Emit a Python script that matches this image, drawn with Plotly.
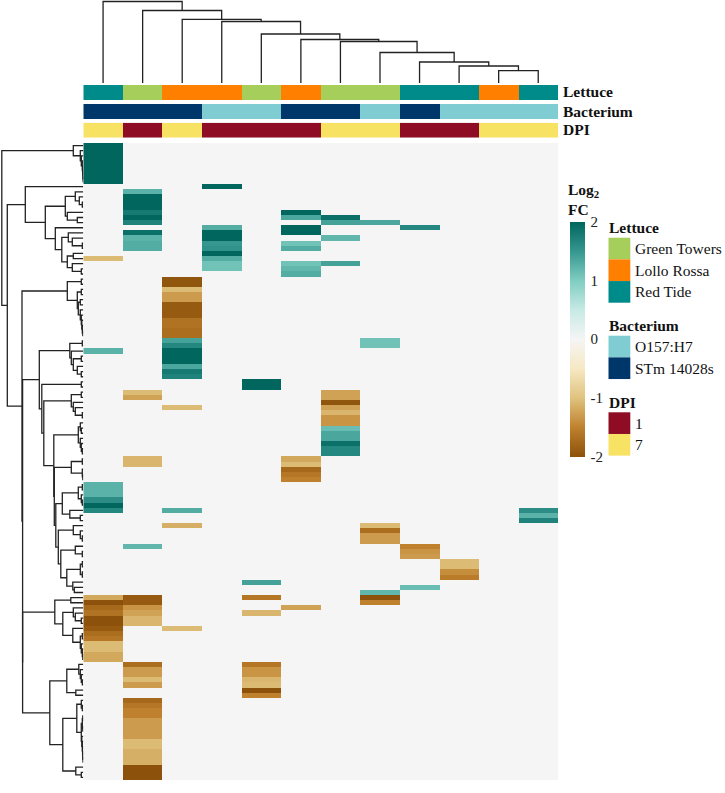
import plotly.graph_objects as go

W, H = 725, 793

# --- heatmap values: column -> {row: log2 FC}; everything else is 0 ---
n_rows, n_cols = 124, 12
col_0 = {0: 2, 1: 2, 2: 2, 3: 2, 4: 2, 5: 2, 6: 2, 7: 2, 22: -1.05, 40: 1.25, 66: 1.25, 67: 1.25, 68: 1.25,
         69: 1.6, 70: 2, 71: 1.65, 88: -1.2, 89: -2, 90: -1.75, 91: -1.65, 92: -2, 93: -2, 94: -1.9, 95: -1.7,
         96: -1.6, 97: -1.05, 98: -1.05, 99: -1.2, 100: -1.2}
col_1 = {9: 1.25, 10: 2, 11: 2, 12: 2, 13: 1.8, 14: 2, 15: 1.7, 17: 1.9, 18: 1.25, 19: 1.3, 20: 1.3, 48: -1.05,
         49: -1.25, 61: -1.1, 62: -1.1, 78: 1.2, 88: -1.9, 89: -1.9, 90: -1.35, 91: -1.25, 92: -1.1, 93: -1.1,
         101: -1.7, 102: -1.3, 103: -1.3, 104: -1.05, 105: -1.3, 108: -1.75, 109: -1.6, 110: -1.5, 111: -1.5,
         112: -1.3, 113: -1.3, 114: -1.3, 115: -1.3, 116: -1.05, 117: -1.05, 118: -1.15, 119: -1.15, 120: -1.15,
         121: -2, 122: -2, 123: -2}
col_2 = {26: -1.95, 27: -1.95, 28: -1.05, 29: -1.3, 30: -1.3, 31: -1.9, 32: -1.9, 33: -1.9, 34: -1.65, 35: -1.65,
         36: -1.7, 37: -1.7, 38: 1.4, 39: 1.65, 40: 2, 41: 2, 42: 2, 43: 1.35, 44: 1.8, 45: 1.7, 51: -1.05,
         71: 1.3, 74: -1.15, 94: -1.05}
col_3 = {8: 2, 16: 1.3, 17: 2, 18: 2, 19: 1.5, 20: 1.55, 21: 2, 22: 1.3, 23: 1.1, 24: 1.1}
col_4 = {46: 2, 47: 2, 85: 1.4, 88: -1.6, 91: -1.1, 101: -1.6, 102: -1.35, 103: -1.35, 104: -1.1, 105: -1.05,
         106: -2, 107: -1.5}
col_5 = {13: 2, 14: 1.35, 16: 2, 17: 2, 19: 1.1, 20: 1.3, 23: 1.1, 24: 1.2, 25: 1.3, 61: -1.2, 62: -1.05,
         63: -1.75, 64: -1.6, 65: -1.5, 90: -1.25}
col_6 = {14: 1.9, 15: 1.4, 18: 1.2, 23: 1.4, 48: -1.25, 49: -1.25, 50: -1.95, 51: -1.25, 52: -1.1, 53: -1.35,
         54: -1.35, 55: 1.15, 56: 1.35, 57: 1.35, 58: 1.9, 59: 1.65, 60: 1.65}
col_7 = {15: 1.35, 38: 1.1, 39: 1.1, 74: -1.05, 75: -1.7, 76: -1.3, 77: -1.3, 87: 1.2, 88: -2, 89: -1.5}
col_8 = {16: 1.65, 78: -1.5, 79: -1.35, 80: -1.3, 86: 1.15}
col_9 = {81: -1.05, 82: -1.05, 83: -1.4, 84: -1.55}
col_10 = {}
col_11 = {71: 1.6, 72: 1.25, 73: 1.7}
columns = [col_0, col_1, col_2, col_3, col_4, col_5, col_6, col_7, col_8, col_9, col_10, col_11]

# --- column annotations ---
lettuce = ["Red Tide", "Green Towers", "Lollo Rossa", "Lollo Rossa", "Green Towers", "Lollo Rossa",
           "Green Towers", "Green Towers", "Red Tide", "Red Tide", "Lollo Rossa", "Red Tide"]
bacterium = ["STm 14028s", "STm 14028s", "STm 14028s", "O157:H7", "O157:H7", "STm 14028s",
             "STm 14028s", "O157:H7", "STm 14028s", "O157:H7", "O157:H7", "O157:H7"]
dpi = ["7", "1", "7", "1", "1", "1", "7", "7", "1", "1", "7", "7"]

lettuce_levels = ["Green Towers", "Lollo Rossa", "Red Tide"]
bacterium_levels = ["O157:H7", "STm 14028s"]
dpi_levels = ["1", "7"]
lettuce_colors = ["#A6CE5A", "#FF7F00", "#008B8B"]
bacterium_colors = ["#7FCDD3", "#00376B"]
dpi_colors = ["#8E0C24", "#F7E264"]

# --- dendrograms: [height, left, right]; leaves are column/row numbers ---
col_tree = [81.5, 0, [72.5, 1, [63.7, 2, [61.5, 3, [49, 4, [43.5, 5, [41.5, 6, [30.5, 7, [21, 8, [17, 9,
            [12.3, 10, 11]]]]]]]]]]]

block_a = [10, 0, [3, 1, [2, 2, [1, 3, [.6, 4, [.4, 5, [.2, 6, 7]]]]]]]
block_f = [18, [8, 9, [4, 10, [1, 11, 12]]], [16, 13, [6, 14, 15]]]
block_g = [28, 16, [21.5, [15, 17, [11, 18, [1, 19, 20]]], [16, [10, 21, 22], [11, 23, [2, 24, 25]]]]]
block_c = [58, 8, [38, block_f, block_g]]
block_d1 = [16, [2, 26, 27], [6, [2, 28, 29], [5, [3, 30, 31],
            [3, 32, [2, 33, [1.5, 34, [1, 35, [.5, 36, 37]]]]]]]]
block_k = [13.5, [1, 38, 39], [12, 40, [10, [2, 41, 42], [6, 43, [2, 44, 45]]]]]
block_r = [12, [2, 48, 49], [10, 50, [8, 51, [1, 52, 53]]]]
block_v1 = [5, [3, 54, [2, 55, 56]], [3, 57, [2, 58, [1, 59, 60]]]]
block_w = [12, [1, 61, 62], [1, 63, [.5, 64, 65]]]
block_y = [5, [1, 66, 67], [2, 68, [1, 69, 70]]]
block_x = [21, block_y, [13.5, 71, [3, 72, 73]]]
block_z = [10, 74, [3, 75, [1, 76, 77]]]
block_ab = [8, 78, [1, 79, 80]]
block_ad = [3, [1, 81, 82], [1, 83, 84]]
block_ae = [10.5, 85, [9, 86, 87]]
block_aa = [22.5, block_ab, [16.5, block_ad, block_ae]]
block_v4 = [25, block_z, block_aa]
block_v3 = [27.5, block_x, block_v4]
block_v = [29.5, block_v1, [29, block_w, block_v3]]
block_q = [39.5, block_r, block_v]
block_p = [41.5, [2, 46, 47], block_q]
block_d21 = [44, block_k, block_p]
block_ai = [10, 90, [8, 91, [2, 92, 93]]]
block_ak = [3, [1, 95, 96], [2, 97, [1, 98, [.5, 99, 100]]]]
block_aj = [10.5, 94, block_ak]
block_af = [28.5, [12.5, 88, 89], [20.5, block_ai, block_aj]]
block_an = [4.5, 101, [3, 102, [2, 103, [1, 104, 105]]]]
block_am = [16.5, block_an, [7.5, 106, 107]]
block_aq = [2, [1, [.5, 111, 112], [.5, 113, 114]],
            [1.5, 115, [1, 116, [.7, 117, [.5, 118, [.3, 119, 120]]]]]]
block_ap = [6.5, [2, 108, [1, 109, 110]], block_aq]
block_ao = [20.5, block_ap, [7.5, 121, [2, 122, 123]]]
block_al = [33.5, block_am, block_ao]
block_d22 = [60.7, block_af, block_al]
row_tree = [81.5, block_a, [76, block_c, [61.3, block_d1, [60.7, block_d21, block_d22]]]]

dendro_height = 83


def segments(tree):
    """Return (position, height) of a node and the polyline coordinates below it."""
    if not isinstance(tree, list):
        return tree, 0, [], []
    h, left, right = tree
    pl, hl, al, bl = segments(left)
    pr, hr, ar, br = segments(right)
    a = al + ar + [pl, pl, pr, pr, None]
    b = bl + br + [hl, h, h, hr, None]
    return (pl + pr) / 2, h, a, b


z = [[col.get(r, 0) for col in columns] for r in range(n_rows)]
col_x = list(range(n_cols))
row_y = list(range(n_rows))

colorscale = [[0, "#8C510A"], [.125, "#BF812D"], [.25, "#DFC27D"], [.375, "#F6E8C3"], [.5, "#F5F5F5"],
              [.625, "#C7EAE5"], [.75, "#80CDC1"], [.875, "#35978F"], [1, "#01665E"]]


def fx(p):
    return p / W


def fy(p):
    return 1 - p / H


def discrete(colors):
    n = len(colors)
    out = []
    for i, c in enumerate(colors):
        out += [[i / n, c], [(i + 1) / n, c]]
    return out


fig = go.Figure()
fig.add_trace(go.Heatmap(z=z, x=col_x, y=row_y, colorscale=colorscale, zmin=-2, zmax=2, xaxis="x", yaxis="y",
                         colorbar=dict(thickness=15, thicknessmode="pixels", len=234.5, lenmode="pixels",
                                       x=fx(570), xanchor="left", y=fy(221.7), yanchor="top",
                                       outlinewidth=0, tickvals=[-2, -1, 0, 1, 2],
                                       ticktext=["-2", "-1", "0", "1", "2"], ticks="outside", ticklen=3,
                                       tickcolor="rgba(0,0,0,0)",
                                       tickfont=dict(family="Liberation Serif", size=15, color="#222"),
                                       xpad=0, ypad=0)))

for name, values, levels, colors, yax in [("Lettuce", lettuce, lettuce_levels, lettuce_colors, "y2"),
                                          ("Bacterium", bacterium, bacterium_levels, bacterium_colors, "y3"),
                                          ("DPI", dpi, dpi_levels, dpi_colors, "y4")]:
    fig.add_trace(go.Heatmap(z=[[levels.index(v) for v in values]], x=col_x, y=[name], xaxis="x", yaxis=yax,
                             colorscale=discrete(colors), zmin=-0.5, zmax=len(levels) - 0.5, showscale=False))

_, _, cx, cy = segments(col_tree)
fig.add_trace(go.Scatter(x=cx, y=cy, mode="lines", line=dict(color="#222", width=1.3), xaxis="x", yaxis="y5",
                         hoverinfo="skip", showlegend=False))
_, _, ry, rx = segments(row_tree)
fig.add_trace(go.Scatter(x=rx, y=ry, mode="lines", line=dict(color="#222", width=1.3), xaxis="x2", yaxis="y",
                         hoverinfo="skip", showlegend=False))

hidden = dict(showgrid=False, zeroline=False, showticklabels=False, ticks="", showline=False)
x_dom = [fx(83.3), fx(558)]
layout = dict(
    width=W, height=H, margin=dict(l=0, r=0, t=0, b=0), paper_bgcolor="white", plot_bgcolor="white",
    showlegend=False,
    xaxis=dict(domain=x_dom, range=[-0.5, n_cols - 0.5], anchor="y", **hidden),
    yaxis=dict(domain=[fy(780), fy(143)], range=[n_rows - 0.5, -0.5], anchor="x", **hidden),
    xaxis2=dict(domain=[0, fx(83.3)], range=[dendro_height + 0.3, 0], anchor="y", **hidden),
    yaxis2=dict(domain=[fy(100), fy(85)], anchor="x", **hidden),
    yaxis3=dict(domain=[fy(119), fy(104)], anchor="x", **hidden),
    yaxis4=dict(domain=[fy(137.8), fy(122.7)], anchor="x", **hidden),
    yaxis5=dict(domain=[fy(dendro_height), 1], range=[0, dendro_height], anchor="x", **hidden),
)
fig.update_layout(**layout)


def text(s, x, y, bold=False, size=15.5, xanchor="left"):
    fig.add_annotation(text=f"<b>{s}</b>" if bold else s, x=fx(x), y=fy(y), xref="paper", yref="paper",
                       showarrow=False, xanchor=xanchor, yanchor="middle", align="left",
                       font=dict(family="Liberation Serif", size=size, color="#111"))


text("Lettuce", 561, 92, True)
text("Bacterium", 561, 111.5, True)
text("DPI", 561, 130, True)
text("Log<sub>2</sub>", 566, 190, True)
text("FC", 566, 209, True)

legend_groups = [("Lettuce", lettuce_levels, lettuce_colors, 227.5, 237.7, 21.67),
                 ("Bacterium", bacterium_levels, bacterium_colors, 325, 335.7, 21.67),
                 ("DPI", dpi_levels, dpi_colors, 402, 412.3, 21.67)]
for title, levels, colors, ty, y0, step in legend_groups:
    text(title, 606.5, ty, True)
    for i, (lab, c) in enumerate(zip(levels, colors)):
        fig.add_shape(type="rect", xref="paper", yref="paper", x0=fx(608.5), x1=fx(630.3),
                      y0=fy(y0 + i * step), y1=fy(y0 + (i + 1) * step), fillcolor=c, line_width=0)
        text(lab, 633, y0 + (i + .5) * step, False)

fig.write_html("out.html", config=dict(displayModeBar=False),
               post_script="document.body.style.margin='0';document.documentElement.style.overflow='hidden';")
